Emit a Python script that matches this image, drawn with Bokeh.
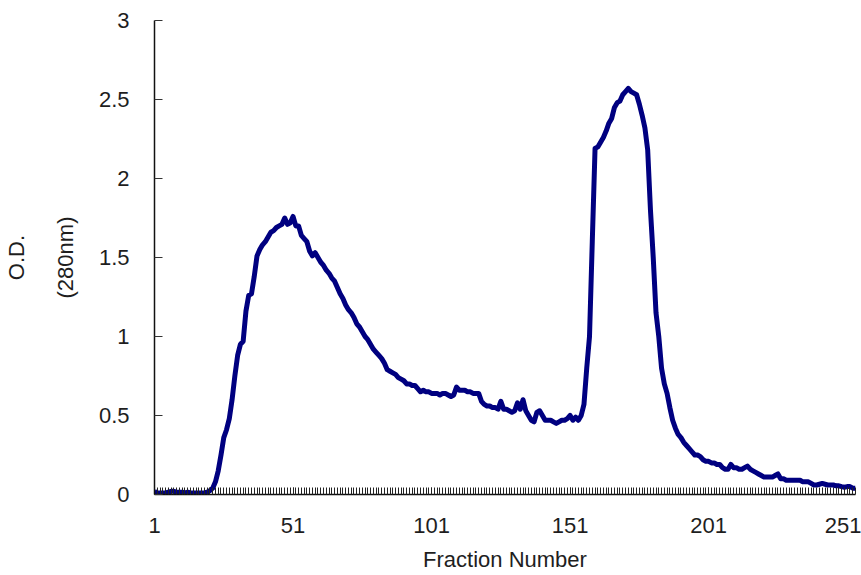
from bokeh.plotting import figure
from bokeh.models import Range1d, FixedTicker, NumeralTickFormatter, LinearAxis, ColumnDataSource
from bokeh.embed import file_html
from bokeh.resources import INLINE

# ---- data ----
od_280 = [
    0.02, 0.01, 0.01, 0.01, 0.01, 0.015, 0.02, 0.02, 0.015, 0.015,
    0.015, 0.01, 0.015, 0.01, 0.01, 0.01, 0.01, 0.01, 0.01, 0.015,
    0.025, 0.04, 0.08, 0.15, 0.25, 0.36, 0.41, 0.48, 0.60, 0.75,
    0.88, 0.95, 0.97, 1.16, 1.26, 1.27, 1.38, 1.51, 1.55, 1.58,
    1.60, 1.63, 1.66, 1.67, 1.69, 1.70, 1.71, 1.75, 1.71, 1.72,
    1.76, 1.70, 1.70, 1.64, 1.62, 1.60, 1.54, 1.51, 1.53, 1.50,
    1.47, 1.45, 1.42, 1.40, 1.37, 1.35, 1.31, 1.27, 1.24, 1.20,
    1.17, 1.15, 1.12, 1.08, 1.06, 1.03, 1.00, 0.98, 0.95, 0.92,
    0.90, 0.88, 0.86, 0.83, 0.79, 0.78, 0.77, 0.76, 0.74, 0.73,
    0.72, 0.70, 0.70, 0.69, 0.69, 0.67, 0.65, 0.66, 0.65, 0.65,
    0.64, 0.64, 0.64, 0.63, 0.64, 0.64, 0.63, 0.62, 0.63, 0.68,
    0.66, 0.66, 0.66, 0.65, 0.65, 0.64, 0.64, 0.64, 0.59, 0.57,
    0.56, 0.56, 0.55, 0.55, 0.54, 0.59, 0.54, 0.54, 0.53, 0.52,
    0.53, 0.58, 0.54, 0.60, 0.53, 0.50, 0.47, 0.46, 0.52, 0.53,
    0.50, 0.47, 0.47, 0.47, 0.46, 0.45, 0.46, 0.47, 0.47, 0.48,
    0.50, 0.47, 0.49, 0.47, 0.50, 0.57, 0.80, 1.00, 1.60, 2.19,
    2.20, 2.23, 2.26, 2.30, 2.35, 2.38, 2.45, 2.48, 2.49, 2.53,
    2.55, 2.57, 2.55, 2.54, 2.53, 2.47, 2.40, 2.32, 2.18, 1.80,
    1.50, 1.15, 1.00, 0.80, 0.70, 0.64, 0.55, 0.47, 0.42, 0.38,
    0.36, 0.33, 0.31, 0.29, 0.27, 0.25, 0.25, 0.24, 0.22, 0.21,
    0.21, 0.20, 0.20, 0.19, 0.19, 0.17, 0.16, 0.16, 0.19, 0.17,
    0.17, 0.16, 0.16, 0.17, 0.18, 0.16, 0.15, 0.14, 0.13, 0.12,
    0.11, 0.11, 0.11, 0.11, 0.12, 0.13, 0.10, 0.10, 0.09, 0.09,
    0.09, 0.09, 0.09, 0.09, 0.08, 0.08, 0.08, 0.07, 0.06, 0.06,
    0.065, 0.07, 0.065, 0.06, 0.06, 0.06, 0.055, 0.055, 0.05, 0.046,
    0.05, 0.05, 0.04, 0.04,
]
fractions = list(range(1, len(od_280) + 1))
x_tick_values = [1, 51, 101, 151, 201, 251]
y_tick_values = [0, 0.5, 1, 1.5, 2, 2.5, 3]
x_title = "Fraction Number"
y_title_lines = ["O.D.", "(280nm)"]

FONT = "Liberation Sans"
TXT = "#1e1e1e"

p = figure(width=861, height=575, output_backend="svg", toolbar_location=None,
           x_range=Range1d(1, len(od_280)), y_range=Range1d(0, 3),
           min_border_left=154, min_border_right=6, min_border_top=20, min_border_bottom=81)
p.outline_line_color = None
p.xgrid.visible = False
p.ygrid.visible = False
p.background_fill_color = "white"
p.border_fill_color = "white"

src = ColumnDataSource(dict(x=fractions, y=od_280))
p.line("x", "y", source=src, line_color="#000080", line_width=5, line_join="round")

# x axis
xa = p.xaxis[0]
xa.ticker = FixedTicker(ticks=x_tick_values, minor_ticks=fractions)
xa.axis_line_color = "#111111"
xa.axis_line_width = 1.5
xa.major_tick_in = 7
xa.major_tick_out = 0
xa.minor_tick_in = 7
xa.minor_tick_out = 0
xa.major_tick_line_color = "#222222"
xa.minor_tick_line_color = "#222222"
xa.major_label_standoff = 23
xa.major_label_text_font = FONT
xa.major_label_text_font_size = "22px"
xa.major_label_text_color = TXT
xa.axis_label = x_title
xa.axis_label_text_font = FONT
xa.axis_label_text_font_size = "22px"
xa.axis_label_text_font_style = "normal"
xa.axis_label_text_color = TXT
xa.axis_label_standoff = 11

# y axis (closest): ticks, labels and second title line
ya = p.yaxis[0]
ya.ticker = FixedTicker(ticks=y_tick_values, minor_ticks=[])
ya.formatter = NumeralTickFormatter(format="0.[0]")
ya.axis_line_color = "#111111"
ya.axis_line_width = 1.5
ya.major_tick_in = 8
ya.major_tick_out = 0
ya.minor_tick_line_color = None
ya.major_tick_line_color = "#333333"
ya.major_label_standoff = 25
ya.major_label_text_font = FONT
ya.major_label_text_font_size = "22px"
ya.major_label_text_color = TXT
ya.axis_label = y_title_lines[1]
ya.axis_label_text_font = FONT
ya.axis_label_text_font_size = "22px"
ya.axis_label_text_font_style = "normal"
ya.axis_label_text_color = TXT
ya.axis_label_standoff = 18

# outer left axis carrying only the first title line
ya2 = LinearAxis(ticker=FixedTicker(ticks=[], minor_ticks=[]),
                 axis_line_color=None, major_tick_line_color=None, minor_tick_line_color=None,
                 major_tick_in=0, major_tick_out=0, minor_tick_in=0, minor_tick_out=0,
                 major_label_text_font_size="0px",
                 axis_label=y_title_lines[0], axis_label_text_font=FONT,
                 axis_label_text_font_size="22px", axis_label_text_font_style="normal",
                 axis_label_text_color=TXT, axis_label_standoff=21)
p.add_layout(ya2, "left")

open("out.html", "w").write(file_html(p, INLINE))
